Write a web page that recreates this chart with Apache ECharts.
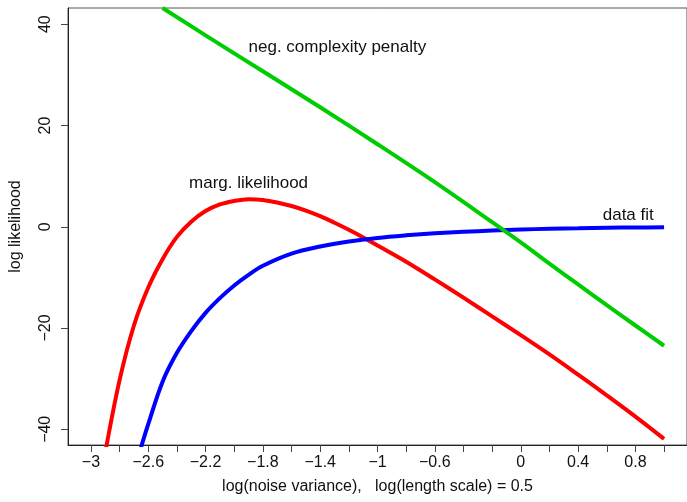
<!DOCTYPE html>
<html>
<head>
<meta charset="utf-8">
<title>log likelihood</title>
<script src="https://cdn.jsdelivr.net/npm/echarts@6/dist/echarts.min.js"></script>
<style>
  html, body { margin: 0; height: 100%; background: #fff; }
  #chart { width: 687px; height: 502px; }
</style>
</head>
<body>
<div id="chart"></div>
<script>
// marginal likelihood (red)
const margX = [-2.9, -2.8, -2.7, -2.6, -2.5, -2.4, -2.3, -2.2, -2.1, -2.0, -1.9, -1.8, -1.7, -1.6, -1.5, -1.4, -1.3, -1.2, -1.1, -1.0, -0.8, -0.6, -0.4, -0.2, 0, 0.2, 0.4, 0.6, 0.8, 1.0];
const margY = [-44.6, -30.3, -19.5, -12.0, -6.4, -2.0, 1.0, 3.1, 4.4, 5.1, 5.45, 5.3, 4.8, 4.1, 3.2, 2.1, 0.8, -0.6, -2.1, -3.7, -6.9, -10.4, -14.0, -17.7, -21.4, -25.2, -29.2, -33.3, -37.5, -41.9];

// data fit (blue)
const fitX = [-2.66, -2.6, -2.5, -2.4, -2.3, -2.2, -2.1, -2.0, -1.9, -1.8, -1.6, -1.4, -1.2, -1.0, -0.8, -0.6, -0.4, -0.2, 0, 0.2, 0.4, 0.6, 0.8, 1.0];
const fitY = [-44.5, -39.0, -30.6, -24.9, -20.6, -17.0, -14.1, -11.6, -9.5, -7.7, -5.3, -3.9, -2.9, -2.2, -1.7, -1.3, -1.0, -0.75, -0.55, -0.4, -0.3, -0.2, -0.15, -0.1];

// negative complexity penalty (green)
const penX = [-2.5, -2.2, -1.8, -1.4, -1.0, -0.6, -0.2, 0, 0.2, 0.4, 0.6, 0.8, 1.0];
const penY = [43.2, 37.8, 30.7, 23.6, 16.3, 8.8, 0.9, -3.1, -7.3, -11.4, -15.5, -19.5, -23.5];

// axis ticks and labels
const xTicks = [-3, -2.8, -2.6, -2.4, -2.2, -2, -1.8, -1.6, -1.4, -1.2, -1, -0.8, -0.6, -0.4, -0.2, 0, 0.2, 0.4, 0.6, 0.8, 1];
const xLabels = [-3, -2.6, -2.2, -1.8, -1.4, -1, -0.6, 0, 0.4, 0.8];
const yTicks = [-40, -20, 0, 20, 40];

const zip = (xs, ys) => xs.map((x, i) => [x, ys[i]]);
const minus = v => String(v).replace('-', '\u2212');
const FONT = "'Liberation Sans', Arial, Helvetica, sans-serif";

function note(text, coord) {
    return {
        coord: coord,
        symbolSize: 0,
        label: {
            show: true, position: 'inside', formatter: text,
            color: '#111', fontSize: 17, fontFamily: FONT
        }
    };
}

const chart = echarts.init(document.getElementById('chart'));
chart.setOption({
    animation: false,
    textStyle: { fontFamily: FONT },
    grid: {
        left: 68, top: 8, bottom: 57, right: -3,
        show: true, borderColor: '#555', borderWidth: 1
    },
    xAxis: {
        type: 'value',
        min: -3.16, max: 1.16,
        name: 'log(noise variance),   log(length scale) = 0.5',
        nameLocation: 'middle',
        nameGap: 34,
        nameTextStyle: { color: '#111', fontSize: 16, fontFamily: FONT },
        axisLine: { onZero: false, lineStyle: { color: '#222', width: 1 } },
        axisTick: { customValues: xTicks, length: 7, lineStyle: { color: '#444' } },
        axisLabel: {
            customValues: xLabels, formatter: minus, margin: 10,
            color: '#111', fontSize: 16, fontFamily: FONT
        },
        splitLine: { show: false }
    },
    yAxis: {
        type: 'value',
        min: -43.1, max: 43.2,
        name: 'log likelihood',
        nameLocation: 'middle',
        nameGap: 44,
        nameTextStyle: { color: '#111', fontSize: 16, fontFamily: FONT },
        axisLine: { onZero: false, lineStyle: { color: '#222', width: 1 } },
        axisTick: { customValues: yTicks, length: 7, lineStyle: { color: '#444' } },
        axisLabel: {
            customValues: yTicks, formatter: minus, rotate: 90, margin: 14,
            color: '#111', fontSize: 16, fontFamily: FONT
        },
        splitLine: { show: false }
    },
    series: [
        {
            name: 'marg. likelihood',
            type: 'line',
            data: zip(margX, margY),
            showSymbol: false,
            smooth: 0.35,
            clip: true,
            lineStyle: { color: '#ff0000', width: 4 },
            markPoint: { data: [note('marg. likelihood', [-1.9, 8.6])] }
        },
        {
            name: 'data fit',
            type: 'line',
            data: zip(fitX, fitY),
            showSymbol: false,
            smooth: 0.35,
            clip: true,
            lineStyle: { color: '#0000ff', width: 4 },
            markPoint: { data: [note('data fit', [0.75, 2.3])] }
        },
        {
            name: 'neg. complexity penalty',
            type: 'line',
            data: zip(penX, penY),
            showSymbol: false,
            smooth: 0.35,
            clip: true,
            lineStyle: { color: '#00cd00', width: 4 },
            markPoint: { data: [note('neg. complexity penalty', [-1.28, 35.5])] }
        }
    ]
});
</script>
</body>
</html>
